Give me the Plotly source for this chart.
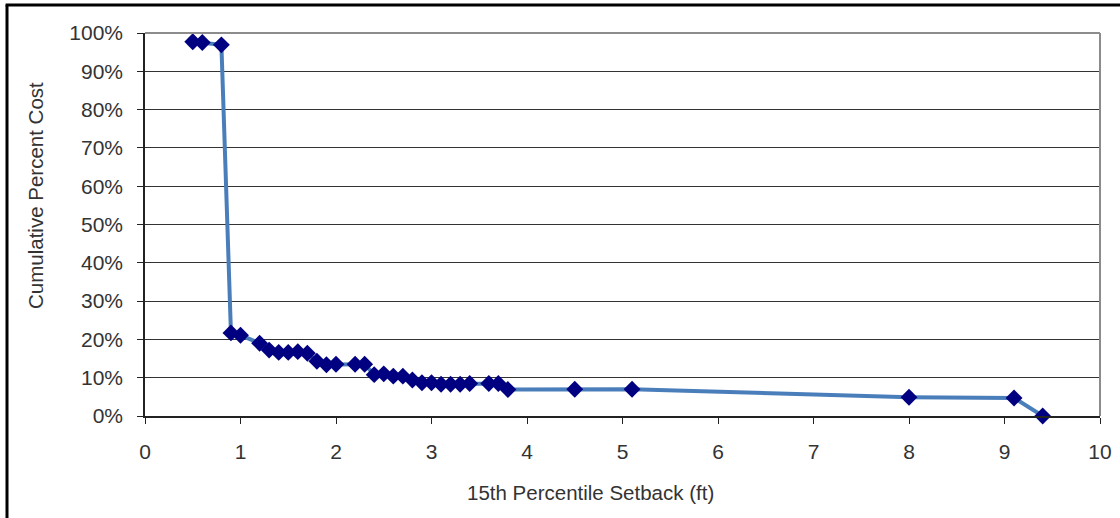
import plotly.graph_objects as go

# 15th percentile setback (ft) vs cumulative percent cost
setback = [0.5, 0.6, 0.8, 0.9, 1.0, 1.2, 1.3, 1.4, 1.5, 1.6, 1.7, 1.8, 1.9, 2.0,
           2.2, 2.3, 2.4, 2.5, 2.6, 2.7, 2.8, 2.9, 3.0, 3.1, 3.2, 3.3, 3.4,
           3.6, 3.7, 3.8, 4.5, 5.1, 8.0, 9.1, 9.4]
cum_cost = [0.977, 0.975, 0.969, 0.217, 0.211, 0.19, 0.172, 0.166, 0.166, 0.168, 0.164,
            0.143, 0.134, 0.135, 0.135, 0.135, 0.108, 0.110, 0.104, 0.104, 0.094,
            0.087, 0.087, 0.083, 0.083, 0.083, 0.085, 0.085, 0.085, 0.069, 0.070,
            0.070, 0.049, 0.047, 0.0]

x_ticks = list(range(0, 11))
y_ticks = [i / 10 for i in range(0, 11)]

fig = go.Figure()
fig.add_trace(go.Scatter(
    x=setback,
    y=cum_cost,
    mode='lines+markers',
    line={'color': '#4a7ebb', 'width': 4},
    marker={'symbol': 'diamond', 'size': 13, 'color': '#000080'},
    showlegend=False,
    cliponaxis=False,
))

font = dict(family='Liberation Sans, Arial, sans-serif', size=21, color='#333333')
title_font = dict(family='Liberation Sans, Arial, sans-serif', size=20.5, color='#333333')

fig.update_layout(
    width=1120, height=518,
    margin=dict(l=145, r=20, t=33, b=102),
    paper_bgcolor='white',
    plot_bgcolor='white',
    font=font,
    xaxis=dict(
        range=[0, 10], tickvals=x_ticks, ticks='outside', ticklen=6,
        tickcolor='#222222', showgrid=False, zeroline=False,
        showline=True, linecolor='#222222', linewidth=1.5, automargin=False,
        ticklabelstandoff=10,
    ),
    yaxis=dict(
        range=[0, 1], tickvals=y_ticks, tickformat='.0%', ticks='outside', ticklen=6,
        tickcolor='#222222', showgrid=True, gridcolor='#333333', gridwidth=1,
        zeroline=False, showline=True, linecolor='#222222', linewidth=1.5,
        automargin=False, ticklabelstandoff=10,
    ),
    # axis titles sit off-centre in the original, so place them as annotations
    annotations=[
        dict(text='15th Percentile Setback (ft)', xref='paper', yref='paper',
             x=0.466, y=-0.201, xanchor='center', yanchor='middle',
             showarrow=False, font=title_font),
        dict(text='Cumulative Percent Cost', xref='paper', yref='paper',
             x=-0.1152, y=0.577, xanchor='center', yanchor='middle',
             textangle=-90, showarrow=False, font=title_font),
    ],
    shapes=[
        # grey top/right frame of plot area
        dict(type='line', xref='paper', yref='paper', x0=0, x1=1, y0=1, y1=1,
             line=dict(color='#8c8c8c', width=2)),
        dict(type='line', xref='paper', yref='paper', x0=1, x1=1, y0=0, y1=1,
             line=dict(color='#8c8c8c', width=2)),
        # black outer border, top and left
        dict(type='line', xref='paper', yref='paper', x0=-0.146, x1=1.03, y0=1.073, y1=1.073,
             line=dict(color='black', width=3)),
        dict(type='line', xref='paper', yref='paper', x0=-0.1445, x1=-0.1445, y0=-0.27, y1=1.073,
             line=dict(color='black', width=3)),
    ],
)

# drop the default page margin so the figure sits at the window corner
fig.write_html("out.html", config={'displayModeBar': False},
               post_script="document.body.style.margin='0';")
